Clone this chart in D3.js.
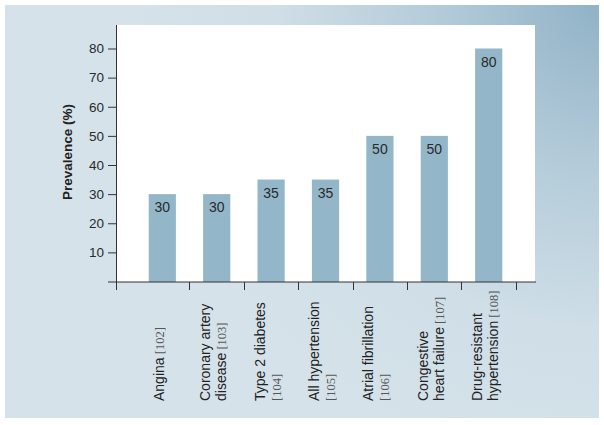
<!DOCTYPE html>
<html><head><meta charset="utf-8">
<script src="https://cdn.jsdelivr.net/npm/d3@7"></script>
<style>body{margin:0;background:#fff}svg{display:block}</style>
</head><body>
<svg id="c" width="604" height="425"></svg>
<script>
const categories = ["Angina","Coronary artery disease","Type 2 diabetes","All hypertension","Atrial fibrillation","Congestive heart failure","Drug-resistant hypertension"];
const labelLines = [["Angina"],["Coronary artery","disease"],["Type 2 diabetes",""],["All hypertension",""],["Atrial fibrillation",""],["Congestive","heart failure"],["Drug-resistant","hypertension"]];
const refs = ["[102]","[103]","[104]","[105]","[106]","[107]","[108]"];
const values = [30,30,35,35,50,50,80];
const yTicks = [10,20,30,40,50,60,70,80];
const yTitle = "Prevalence (%)";

const svg = d3.select("#c");
const defs = svg.append("defs");
const rg = defs.append("radialGradient").attr("id","bg").attr("gradientUnits","userSpaceOnUse")
  .attr("cx",605).attr("cy",0).attr("r",470);
rg.append("stop").attr("offset","0").attr("stop-color","#8fb1c6");
rg.append("stop").attr("offset","0.35").attr("stop-color","#b3cbd9");
rg.append("stop").attr("offset","0.7").attr("stop-color","#cfdee7");
rg.append("stop").attr("offset","1").attr("stop-color","#d5e2ea");

svg.append("rect").attr("x",5).attr("y",5).attr("width",594).attr("height",413).attr("fill","url(#bg)");

const x = d3.scaleBand().domain(categories).range([135.1, 515.9]).paddingInner(0.5).paddingOuter(0.25);
const y = d3.scaleLinear().domain([0,80]).range([281.5, 48.5]);

// white plot area
svg.append("rect").attr("x",117).attr("y",25).attr("width",418).attr("height",257).attr("fill","#fff");

// bars
svg.append("g").selectAll("rect").data(values).join("rect")
  .attr("x",(d,i)=>x(categories[i]))
  .attr("y",d=>y(d))
  .attr("width",x.bandwidth())
  .attr("height",d=>282-y(d))
  .attr("fill","#94b6c9");

// value labels
svg.append("g").selectAll("text").data(values).join("text")
  .attr("x",(d,i)=>x(categories[i])+x.bandwidth()/2)
  .attr("y",d=>y(d)+18)
  .attr("text-anchor","middle")
  .attr("font-family","Liberation Sans, Arial, sans-serif")
  .attr("font-size",14).attr("fill","#2a2a2a")
  .text(d=>d);

// y axis
const yAxis = d3.axisLeft(y).tickValues(yTicks).tickSize(8.5).tickPadding(4);
const ga = svg.append("g").attr("transform","translate(116.5,0)").call(yAxis);
ga.select(".domain").remove();
ga.selectAll(".tick line").attr("stroke","#333");
ga.selectAll(".tick text").attr("font-family","Liberation Sans, Arial, sans-serif").attr("font-size",13.5).attr("fill","#2a2a2a");

svg.append("line").attr("x1",116.5).attr("x2",116.5).attr("y1",25).attr("y2",290).attr("stroke","#333");
svg.append("line").attr("x1",108).attr("x2",536).attr("y1",282).attr("y2",282).attr("stroke","#333");

// x ticks at band boundaries
svg.append("g").selectAll("line").data(categories).join("line")
  .attr("x1",c=>Math.round(x(c)+x.bandwidth()+(x.step()-x.bandwidth())/2)+0.5)
  .attr("x2",c=>Math.round(x(c)+x.bandwidth()+(x.step()-x.bandwidth())/2)+0.5)
  .attr("y1",282).attr("y2",290).attr("stroke","#333");

// y title
svg.append("text").attr("transform","translate(72,152) rotate(-90)")
  .attr("text-anchor","middle").attr("font-family","Liberation Sans, Arial, sans-serif")
  .attr("font-weight","bold").attr("font-size",13.5).attr("fill","#222").text(yTitle);

// category labels
categories.forEach((c,i)=>{
  const cx = x(c)+x.bandwidth()/2;
  const lines = labelLines[i];
  const n = lines.length;
  const g = svg.append("g").attr("transform",`translate(${cx},401) rotate(-90)`);
  lines.forEach((ln,j)=>{
    const off = (j-(n-1)/2)*16 + 1.5;
    const t = g.append("text").attr("x",0).attr("y",off)
      .attr("font-family","Liberation Sans, Arial, sans-serif").attr("font-size",14).attr("fill","#222");
    if (ln) t.append("tspan").text(ln);
    if (j===n-1) {
      t.append("tspan").attr("font-family","Liberation Serif, Times New Roman, serif")
        .attr("font-size",12.5).attr("fill","#555").text((ln?" ":"")+refs[i]);
    }
  });
});
</script>
</body></html>
